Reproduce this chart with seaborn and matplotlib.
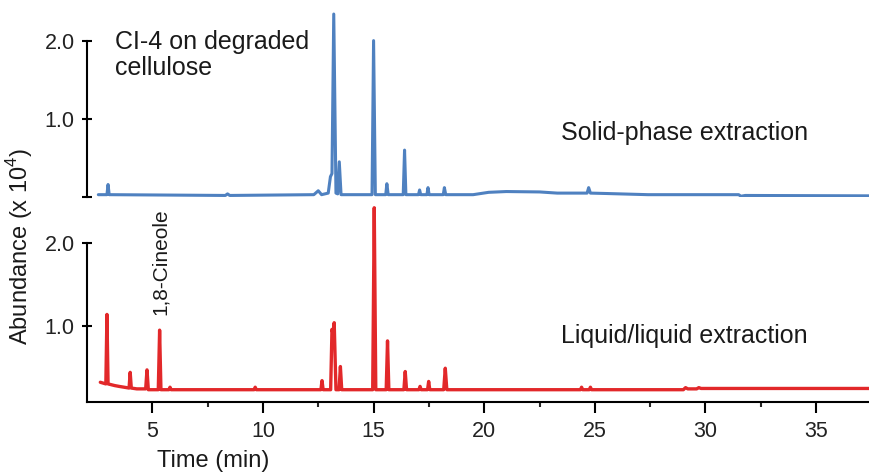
import numpy as np
import matplotlib
matplotlib.use("Agg")
import matplotlib.pyplot as plt
import seaborn as sns

# chromatogram vertices (time in min, abundance x 10^4)
spe_time = [2.56, 2.95, 3.0, 3.05, 8.3, 8.4, 8.5, 12.3, 12.5, 12.65, 12.95, 13.05, 13.12,
            13.2, 13.3, 13.38, 13.45, 13.53, 14.93, 15.0, 15.08, 15.55, 15.6, 15.66,
            16.34, 16.4, 16.46, 17.03, 17.08, 17.13, 17.41, 17.46, 17.51, 18.15, 18.2,
            18.26, 19.5, 20.2, 21.0, 22.5, 23.3, 24.65, 24.72, 24.8, 25.5, 27.4, 31.5,
            31.6, 31.8, 37.4]
spe_abund = [0.03, 0.03, 0.16, 0.03, 0.02, 0.04, 0.02, 0.03, 0.08, 0.03, 0.05, 0.26, 0.30,
             2.34, 0.05, 0.04, 0.45, 0.03, 0.03, 2.0, 0.03, 0.03, 0.17, 0.03,
             0.03, 0.60, 0.03, 0.03, 0.09, 0.03, 0.03, 0.12, 0.03, 0.03, 0.12,
             0.03, 0.03, 0.06, 0.07, 0.065, 0.05, 0.05, 0.12, 0.05, 0.045, 0.03, 0.03,
             0.01, 0.02, 0.015]

lle_time = [2.65, 2.9, 2.95, 3.0, 3.3, 3.5, 3.95, 4.0, 4.05, 4.3, 4.7, 4.76, 4.82, 5.27,
            5.33, 5.39, 5.75, 5.8, 5.85, 9.6, 9.65, 9.7, 12.62, 12.67, 12.72, 13.06,
            13.12, 13.17, 13.22, 13.3, 13.44, 13.5, 13.56, 14.96, 15.03, 15.1, 15.57,
            15.63, 15.69, 16.37, 16.43, 16.49, 17.05, 17.1, 17.15, 17.44, 17.49, 17.54,
            18.17, 18.24, 18.31, 24.35, 24.4, 24.45, 24.75, 24.8, 24.85, 29.0, 29.1,
            29.2, 29.6, 29.7, 29.8, 37.4]
lle_abund = [0.32, 0.30, 1.14, 0.30, 0.28, 0.27, 0.25, 0.44, 0.25, 0.24, 0.24, 0.47, 0.23, 0.23,
             0.95, 0.23, 0.23, 0.26, 0.23, 0.23, 0.26, 0.23, 0.23, 0.34, 0.23, 0.23,
             0.96, 0.90, 1.04, 0.23, 0.23, 0.51, 0.23, 0.23, 2.43, 0.23, 0.23,
             0.82, 0.23, 0.23, 0.45, 0.23, 0.23, 0.27, 0.23, 0.23, 0.33, 0.23,
             0.23, 0.49, 0.23, 0.23, 0.26, 0.23, 0.23, 0.26, 0.23, 0.23, 0.255,
             0.24, 0.24, 0.255, 0.245, 0.245]

x_major = [5, 10, 15, 20, 25, 30, 35]
x_minor = [7.5, 12.5, 17.5, 22.5, 27.5, 32.5]
y_ticks = [1.0, 2.0]
y_labels = ["1.0", "2.0"]

BLUE = "#4f81c0"
RED = "#e2282a"

sns.set_theme(style="white")
plt.rcParams["font.family"] = ["Liberation Sans", "DejaVu Sans"]
plt.rcParams["mathtext.fontset"] = "custom"
plt.rcParams["mathtext.rm"] = "Liberation Sans"
plt.rcParams["axes.linewidth"] = 1.5

fig = plt.figure(figsize=(8.69, 4.76), dpi=100)
ax_top = fig.add_axes([0.0998, 0.5861, 0.9002, 0.4025])
ax_low = fig.add_axes([0.0998, 0.1561, 0.9002, 0.4196])
for ax in (ax_top, ax_low):
    ax.patch.set_alpha(0)
    ax.set_xlim(2.036, 37.39)

sns.lineplot(x=spe_time, y=spe_abund, ax=ax_top, color=BLUE, linewidth=2.2,
             estimator=None, sort=False)
sns.lineplot(x=lle_time, y=lle_abund, ax=ax_low, color=RED, linewidth=2.4,
             estimator=None, sort=False)

# upper trace: floating y axis only
ax_top.set_ylim(0, 2.45)
for s in ["top", "right", "bottom"]:
    ax_top.spines[s].set_visible(False)
ax_top.spines["left"].set_bounds(0, 2.0)
ax_top.spines["left"].set_color("black")
ax_top.set_xticks([])
ax_top.set_yticks([0.0] + y_ticks)
ax_top.set_yticklabels([""] + y_labels)

# lower trace: y axis + time axis
ax_low.set_ylim(0.085, 2.5)
for s in ["top", "right"]:
    ax_low.spines[s].set_visible(False)
ax_low.spines["left"].set_bounds(0.085, 2.0)
for s in ["left", "bottom"]:
    ax_low.spines[s].set_color("black")
ax_low.set_yticks(y_ticks)
ax_low.set_yticklabels(y_labels)
ax_low.set_xticks(x_major)
ax_low.set_xticks(x_minor, minor=True)

for ax in (ax_top, ax_low):
    ax.tick_params(axis="y", direction="inout", length=7.2, width=1.5, pad=5,
                   labelsize=15.5, colors="black", labelcolor="#222222", left=True)
    ax.set_xlabel("")
    ax.set_ylabel("")
ax_low.tick_params(axis="x", which="major", direction="out", length=8, width=1.5,
                   pad=6, labelsize=15.5, colors="black", labelcolor="#222222", bottom=True)
ax_low.tick_params(axis="x", which="minor", direction="out", length=3.6, width=1.5,
                   bottom=True)

ax_low.set_xlabel("Time (min)", fontsize=17, color="#1a1a1a")
ax_low.xaxis.set_label_coords(0.1615, -0.24)
fig.text(0.023, 0.483, r"Abundance (x 10$^{\mathregular{4}}$)", rotation=90,
         ha="center", va="center", fontsize=17, color="#1a1a1a")

ax_top.text(3.31, 2.14, "CI-4 on degraded\ncellulose", ha="left", va="top",
            fontsize=18, color="#1a1a1a", linespacing=1.1)
ax_top.text(23.48, 0.73, "Solid-phase extraction", ha="left", va="baseline",
            fontsize=18, color="#1a1a1a")
ax_low.text(23.48, 0.80, "Liquid/liquid extraction", ha="left", va="baseline",
            fontsize=18, color="#1a1a1a")
ax_low.text(5.36, 1.13, "1,8-Cineole", rotation=90, ha="center", va="bottom",
            fontsize=15, color="#1a1a1a")

fig.savefig("out.png", dpi=100)
